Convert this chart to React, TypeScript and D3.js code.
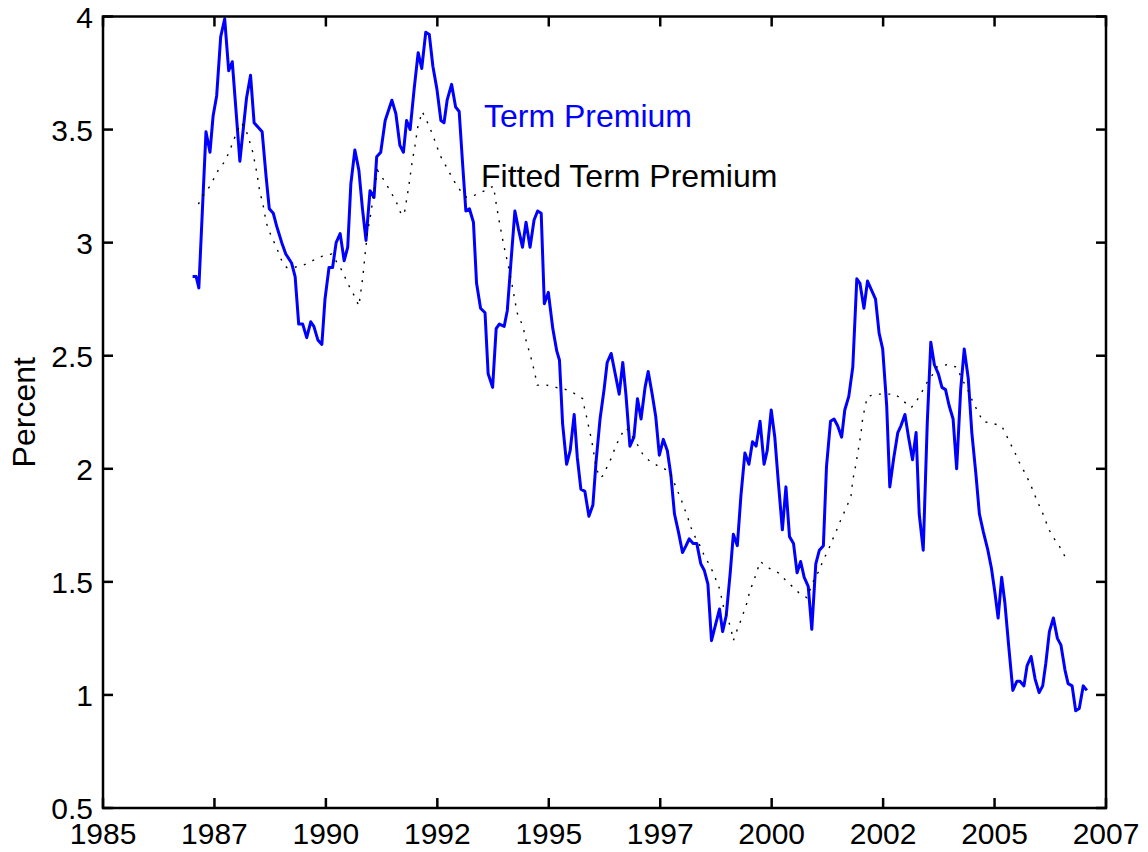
import React, { useEffect, useRef } from "react";
import * as d3 from "d3";

// Term premium (monthly)
const tpDates = [
  1987.01, 1987.09, 1987.15, 1987.31, 1987.4, 1987.47, 1987.55, 1987.64, 1987.73, 1987.82,
  1987.9, 1988.07, 1988.22, 1988.31, 1988.39, 1988.48, 1988.57, 1988.66, 1988.73, 1988.82,
  1988.9, 1989.01, 1989.1, 1989.23, 1989.31, 1989.39, 1989.48, 1989.57, 1989.66, 1989.73,
  1989.82, 1989.91, 1989.98, 1990.07, 1990.15, 1990.23, 1990.32, 1990.41, 1990.49, 1990.56,
  1990.65, 1990.74, 1990.82, 1990.9, 1990.99, 1991.08, 1991.14, 1991.23, 1991.33, 1991.48,
  1991.57, 1991.66, 1991.74, 1991.81, 1991.89, 1991.98, 1992.07, 1992.15, 1992.24, 1992.32,
  1992.4, 1992.49, 1992.58, 1992.65, 1992.72, 1992.82, 1992.91, 1992.99, 1993.07, 1993.14,
  1993.22, 1993.31, 1993.38, 1993.47, 1993.57, 1993.64, 1993.74, 1993.82, 1993.89, 1994.0,
  1994.07, 1994.15, 1994.24, 1994.32, 1994.41, 1994.49, 1994.58, 1994.67, 1994.75, 1994.83,
  1994.9, 1994.99, 1995.09, 1995.18, 1995.24, 1995.31, 1995.4, 1995.48, 1995.57, 1995.64,
  1995.72, 1995.81, 1995.9, 1995.99, 1996.06, 1996.15, 1996.24, 1996.31, 1996.4, 1996.49,
  1996.58, 1996.66, 1996.73, 1996.82, 1996.91, 1996.99, 1997.07, 1997.16, 1997.23, 1997.32,
  1997.4, 1997.48, 1997.57, 1997.66, 1997.74, 1997.82, 1997.91, 1998.0, 1998.08, 1998.15,
  1998.24, 1998.32, 1998.41, 1998.49, 1998.57, 1998.65, 1998.74, 1998.83, 1998.9, 1998.98,
  1999.07, 1999.14, 1999.23, 1999.31, 1999.4, 1999.49, 1999.57, 1999.65, 1999.74, 1999.83,
  1999.9, 1999.99, 2000.07, 2000.15, 2000.24, 2000.32, 2000.4, 2000.49, 2000.57, 2000.65,
  2000.73, 2000.82, 2000.9, 2000.99, 2001.07, 2001.16, 2001.23, 2001.32, 2001.4, 2001.48,
  2001.57, 2001.64, 2001.73, 2001.82, 2001.91, 2001.98, 2002.07, 2002.15, 2002.24, 2002.33,
  2002.41, 2002.49, 2002.58, 2002.65, 2002.74, 2002.83, 2002.9, 2002.99, 2003.07, 2003.16,
  2003.24, 2003.31, 2003.4, 2003.49, 2003.57, 2003.65, 2003.74, 2003.82, 2003.9, 2003.98,
  2004.07, 2004.15, 2004.24, 2004.32, 2004.41, 2004.49, 2004.58, 2004.66, 2004.75, 2004.85,
  2004.93, 2005.01, 2005.08, 2005.16, 2005.23, 2005.32, 2005.41, 2005.5, 2005.57, 2005.66,
  2005.73, 2005.82, 2005.91, 2006.0, 2006.08, 2006.15, 2006.23, 2006.32, 2006.41, 2006.49,
  2006.58, 2006.65, 2006.74, 2006.82, 2006.9, 2006.99, 2007.07,
];
const tpValues = [
  2.85, 2.85, 2.8, 3.49, 3.4, 3.56, 3.65, 3.91, 3.99, 3.76,
  3.8, 3.36, 3.64, 3.74, 3.53, 3.51, 3.49, 3.29, 3.15, 3.13,
  3.07, 3.0, 2.95, 2.91, 2.85, 2.64, 2.64, 2.58, 2.65, 2.63,
  2.57, 2.55, 2.75, 2.89, 2.89, 3.0, 3.04, 2.92, 2.98, 3.26,
  3.41, 3.32, 3.15, 3.01, 3.23, 3.2, 3.38, 3.4, 3.54, 3.63,
  3.57, 3.43, 3.4, 3.54, 3.5, 3.68, 3.84, 3.77, 3.93, 3.92,
  3.78, 3.68, 3.54, 3.53, 3.63, 3.7, 3.6, 3.58, 3.34, 3.14,
  3.15, 3.09, 2.82, 2.71, 2.69, 2.42, 2.36, 2.62, 2.64, 2.63,
  2.7, 2.91, 3.14, 3.06, 2.98, 3.09, 2.98, 3.1, 3.14, 3.13,
  2.73, 2.78, 2.62, 2.52, 2.48, 2.2, 2.02, 2.08, 2.24, 2.05,
  1.91, 1.9, 1.79, 1.84, 2.03, 2.22, 2.35, 2.47, 2.51, 2.42,
  2.33, 2.47, 2.33, 2.1, 2.14, 2.31, 2.22, 2.36, 2.43, 2.33,
  2.23, 2.06, 2.13, 2.08, 1.97, 1.8, 1.72, 1.63, 1.66, 1.69,
  1.67, 1.67, 1.58, 1.55, 1.49, 1.24, 1.31, 1.38, 1.28, 1.35,
  1.54, 1.71, 1.66, 1.88, 2.07, 2.02, 2.12, 2.1, 2.21, 2.02,
  2.08, 2.26, 2.14, 1.94, 1.73, 1.92, 1.7, 1.67, 1.54, 1.59,
  1.52, 1.48, 1.29, 1.58, 1.64, 1.66, 2.01, 2.21, 2.22, 2.19,
  2.14, 2.26, 2.32, 2.45, 2.84, 2.82, 2.71, 2.83, 2.79, 2.75,
  2.6, 2.53, 2.28, 1.92, 2.05, 2.16, 2.19, 2.24, 2.14, 2.04,
  2.16, 1.8, 1.64, 2.2, 2.56, 2.46, 2.42, 2.36, 2.35, 2.28,
  2.22, 2.0, 2.35, 2.53, 2.4, 2.16, 1.98, 1.8, 1.72, 1.64,
  1.56, 1.45, 1.34, 1.52, 1.41, 1.21, 1.02, 1.06, 1.06, 1.04,
  1.13, 1.17, 1.07, 1.01, 1.04, 1.14, 1.28, 1.34, 1.25, 1.22,
  1.11, 1.05, 1.04, 0.93, 0.94, 1.04, 1.02,
];

// Fitted term premium
const fitDates = [
  1987.14, 1987.25, 1987.4, 1987.61, 1987.74, 1987.91, 1988.0, 1988.11, 1988.22, 1988.3,
  1988.36, 1988.45, 1988.52, 1988.58, 1988.66, 1988.73, 1988.82, 1988.91, 1989.01, 1989.12,
  1989.28, 1989.49, 1989.7, 1989.92, 1990.13, 1990.35, 1990.54, 1990.65, 1990.74, 1990.83,
  1990.88, 1990.93, 1991.01, 1991.08, 1991.16, 1991.29, 1991.44, 1991.58, 1991.7, 1991.77,
  1991.86, 1991.93, 1992.0, 1992.06, 1992.16, 1992.26, 1992.39, 1992.5, 1992.6, 1992.72,
  1992.85, 1993.05, 1993.16, 1993.34, 1993.57, 1993.76, 1993.83, 1993.91, 1994.0, 1994.09,
  1994.18, 1994.29, 1994.42, 1994.5, 1994.59, 1994.69, 1994.74, 1994.95, 1995.16, 1995.39,
  1995.61, 1995.76, 1995.81, 1995.86, 1995.91, 1995.96, 1996.0, 1996.07, 1996.15, 1996.22,
  1996.31, 1996.41, 1996.5, 1996.6, 1996.71, 1996.8, 1996.88, 1997.01, 1997.12, 1997.29,
  1997.48, 1997.7, 1997.79, 1997.87, 1997.96, 1998.03, 1998.11, 1998.19, 1998.28, 1998.39,
  1998.48, 1998.59, 1998.69, 1998.79, 1998.85, 1998.89, 1998.95, 1999.03, 1999.1, 1999.14,
  1999.23, 1999.31, 1999.38, 1999.45, 1999.51, 1999.59, 1999.66, 1999.74, 1999.95, 2000.15,
  2000.3, 2000.46, 2000.62, 2000.79, 2000.97, 2001.07, 2001.16, 2001.25, 2001.35, 2001.44,
  2001.52, 2001.61, 2001.7, 2001.78, 2001.82, 2001.89, 2001.94, 2002.0, 2002.04, 2002.09,
  2002.15, 2002.34, 2002.54, 2002.77, 2002.95, 2003.13, 2003.25, 2003.37, 2003.48, 2003.59,
  2003.7, 2003.93, 2004.15, 2004.24, 2004.34, 2004.45, 2004.52, 2004.64, 2004.73, 2004.96,
  2005.16, 2005.26, 2005.36, 2005.46, 2005.55, 2005.66, 2005.76, 2005.85, 2005.93, 2006.02,
  2006.11, 2006.2, 2006.3, 2006.42, 2006.53, 2006.64,
];
const fitValues = [
  3.17, 3.21, 3.25, 3.33, 3.36, 3.44, 3.49, 3.53, 3.49, 3.44,
  3.4, 3.31, 3.22, 3.18, 3.09, 3.05, 3.01, 2.97, 2.92, 2.89,
  2.89, 2.9, 2.92, 2.94, 2.95, 2.88, 2.8, 2.76, 2.72, 2.85,
  2.95, 3.04, 3.13, 3.23, 3.32, 3.28, 3.23, 3.18, 3.12, 3.14,
  3.25, 3.35, 3.43, 3.51, 3.58, 3.54, 3.48, 3.42, 3.37, 3.33,
  3.28, 3.22, 3.2, 3.21, 3.23, 3.25, 3.16, 3.07, 2.98, 2.9,
  2.81, 2.69, 2.63, 2.56, 2.5, 2.42, 2.37, 2.37, 2.36, 2.35,
  2.33, 2.31, 2.26, 2.22, 2.17, 2.13, 2.08, 2.0, 1.96, 1.97,
  2.01, 2.05, 2.1, 2.14, 2.18, 2.17, 2.14, 2.1, 2.06, 2.03,
  2.01, 1.99, 1.95, 1.91, 1.87, 1.83, 1.79, 1.74, 1.7, 1.66,
  1.62, 1.58, 1.54, 1.49, 1.46, 1.41, 1.37, 1.33, 1.28, 1.24,
  1.29, 1.33, 1.37, 1.41, 1.46, 1.5, 1.54, 1.59, 1.56, 1.54,
  1.51, 1.48, 1.45, 1.43, 1.52, 1.55, 1.6, 1.63, 1.68, 1.72,
  1.76, 1.8, 1.84, 1.88, 1.95, 2.02, 2.08, 2.15, 2.22, 2.27,
  2.32, 2.33, 2.33, 2.33, 2.3, 2.27, 2.3, 2.34, 2.38, 2.41,
  2.45, 2.46, 2.45, 2.41, 2.37, 2.33, 2.29, 2.25, 2.21, 2.2,
  2.19, 2.15, 2.11, 2.07, 2.03, 1.99, 1.95, 1.91, 1.87, 1.83,
  1.79, 1.74, 1.7, 1.67, 1.63, 1.59,
];

// Axis ticks (MATLAB datetick style: half-year steps labelled by year)
const xTicks = [1985, 1987.5, 1990, 1992.5, 1995, 1997.5, 2000, 2002.5, 2005, 2007.5];
const xTickLabels = ["1985", "1987", "1990", "1992", "1995", "1997", "2000", "2002", "2005", "2007"];
const yTicks = [0.5, 1, 1.5, 2, 2.5, 3, 3.5, 4];
const yTickLabels = ["0.5", "1", "1.5", "2", "2.5", "3", "3.5", "4"];

const FONT = "'Liberation Sans', Arial, Helvetica, sans-serif";

const App = () => {
  const chartRef = useRef<SVGSVGElement>(null);

  useEffect(() => {
    const width = 1148;
    const height = 852;
    const left = 103;
    const right = 1106;
    const top = 16.5;
    const bottom = 808;
    const tickLen = 10;

    const x = d3.scaleLinear().domain([1985, 2007.5]).range([left, right]);
    const y = d3.scaleLinear().domain([0.5, 4]).range([bottom, top]);

    const svg = d3.select(chartRef.current);
    svg.selectAll("*").remove();
    svg.attr("width", width).attr("height", height);

    svg.append("rect").attr("width", width).attr("height", height).attr("fill", "#fff");

    const tp = d3.zip(tpDates, tpValues);
    const fit = d3.zip(fitDates, fitValues);

    const line = d3
      .line<number[]>()
      .x((d) => x(d[0]))
      .y((d) => y(d[1]));

    // Term premium
    svg
      .append("path")
      .datum(tp)
      .attr("d", line)
      .attr("fill", "none")
      .attr("stroke", "#0000ff")
      .attr("stroke-width", 3)
      .attr("stroke-linejoin", "round");

    // Fitted term premium (dotted)
    svg
      .append("path")
      .datum(fit)
      .attr("d", line)
      .attr("fill", "none")
      .attr("stroke", "#000")
      .attr("stroke-width", 1.4)
      .attr("stroke-dasharray", "2 7.4");

    // Axes box
    const g = svg.append("g").attr("stroke", "#000").attr("stroke-width", 2.5);
    g.append("rect")
      .attr("x", left)
      .attr("y", top)
      .attr("width", right - left)
      .attr("height", bottom - top)
      .attr("fill", "none");

    // Inward ticks on all four sides
    xTicks.forEach((t) => {
      g.append("line").attr("x1", x(t)).attr("x2", x(t)).attr("y1", bottom).attr("y2", bottom - tickLen);
      g.append("line").attr("x1", x(t)).attr("x2", x(t)).attr("y1", top).attr("y2", top + tickLen);
    });
    yTicks.forEach((t) => {
      g.append("line").attr("x1", left).attr("x2", left + tickLen).attr("y1", y(t)).attr("y2", y(t));
      g.append("line").attr("x1", right).attr("x2", right - tickLen).attr("y1", y(t)).attr("y2", y(t));
    });

    const text = svg.append("g").attr("font-family", FONT);

    text
      .selectAll(".xl")
      .data(xTicks)
      .join("text")
      .attr("font-size", 30)
      .attr("x", (d) => x(d))
      .attr("y", 844)
      .attr("text-anchor", "middle")
      .text((d, i) => xTickLabels[i]);

    text
      .selectAll(".yl")
      .data(yTicks)
      .join("text")
      .attr("font-size", 30)
      .attr("x", left - 10)
      .attr("y", (d) => y(d) + 11)
      .attr("text-anchor", "end")
      .text((d, i) => yTickLabels[i]);

    text
      .append("text")
      .attr("font-size", 32)
      .attr("transform", `translate(35,${(top + bottom) / 2}) rotate(-90)`)
      .attr("text-anchor", "middle")
      .text("Percent");

    text
      .append("text")
      .attr("font-size", 32)
      .attr("x", 484)
      .attr("y", 127)
      .attr("fill", "#0000ff")
      .text("Term Premium");

    text
      .append("text")
      .attr("font-size", 32)
      .attr("x", 481)
      .attr("y", 187)
      .attr("fill", "#000")
      .text("Fitted Term Premium");
  }, []);

  return (
    <svg
      ref={chartRef}
      style={{ position: "absolute", left: 0, top: 0, display: "block" }}
    />
  );
};

export default App;
